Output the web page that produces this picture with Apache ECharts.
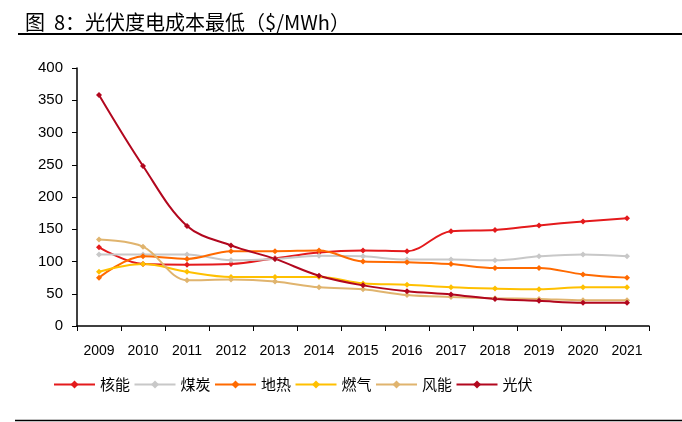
<!DOCTYPE html>
<html><head><meta charset="utf-8">
<script src="https://cdn.jsdelivr.net/npm/echarts@6/dist/echarts.min.js"></script>
<style>html,body{margin:0;padding:0;background:#fff}#c{width:682px;height:422px}</style>
</head><body><div id="c"></div>
<script>
const years = ['2009','2010','2011','2012','2013','2014','2015','2016','2017','2018','2019','2020','2021'];
const nuclear = [122,96,95,96,105,114,117,116,147,149,156,162,167];
const coal = [111,111,111,102,104,109,108,103,103,102,108,111,108];
const geothermal = [75,108,104,116,116,117,100,99,96,90,90,80,75];
const gas = [84,96,84,76,76,76,66,64,60,58,57,60,60];
const wind = [134,123,71,72,69,60,57,48,45,43,42,40,40];
const solar = [358,248,155,125,104,78,63,54,49,42,39,36,36];
const names = ['核能','煤炭','地热','燃气','风能','光伏'];
const colors = ['#E41A1C','#C8C8C8','#FF6A00','#FFC000','#E0B46E','#B2071E'];
const datas = [nuclear, coal, geothermal, gas, wind, solar];

const chart = echarts.init(document.getElementById('c'));
chart.setOption({
  animation: false,
  title: {
    text: '图  8：光伏度电成本最低（$/MWh）',
    left: 20, top: 7,
    textStyle: {fontFamily: 'Noto Sans CJK SC, sans-serif', fontSize: 20, fontWeight: 'normal', color: '#000'}
  },
  graphic: [
    {type: 'line', shape: {x1: 18, y1: 34, x2: 682, y2: 34}, style: {stroke: '#000', lineWidth: 2}},
    {type: 'line', shape: {x1: 15, y1: 420.5, x2: 682, y2: 420.5}, style: {stroke: '#000', lineWidth: 1.5}}
  ],
  legend: {
    bottom: 25, left: 48, itemGap: 3.5, itemWidth: 41, itemHeight: 10,
    data: names,
    textStyle: {fontFamily: 'Noto Sans CJK SC, sans-serif', fontSize: 15, color: '#000'}
  },
  grid: {left: 77, right: 33, top: 68, bottom: 96},
  xAxis: {
    type: 'category', data: years, boundaryGap: true,
    axisLine: {lineStyle: {color: '#000', width: 1.5}},
    axisTick: {show: true, inside: false, length: 5, lineStyle: {color: '#000'}},
    axisLabel: {color: '#000', fontFamily: 'Liberation Sans, Arial, sans-serif', fontSize: 14, margin: 18}
  },
  yAxis: {
    type: 'value', min: 0, max: 400, interval: 50,
    axisLine: {show: true, lineStyle: {color: '#000', width: 1.5}},
    axisTick: {show: true, inside: false, length: 5, lineStyle: {color: '#000'}},
    splitLine: {show: false},
    axisLabel: {color: '#000', fontFamily: 'Liberation Sans, Arial, sans-serif', fontSize: 15, margin: 14}
  },
  series: names.map((n, i) => ({
    name: n, type: 'line', data: datas[i], smooth: 0.35,
    symbol: 'diamond', symbolSize: 6,
    lineStyle: {color: colors[i], width: 2},
    itemStyle: {color: colors[i]}
  }))
});
</script></body></html>
